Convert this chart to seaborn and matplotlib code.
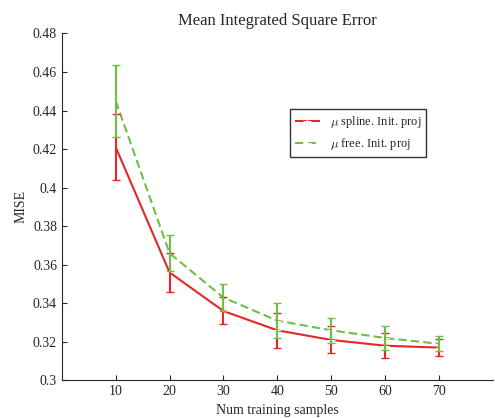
import numpy as np
import pandas as pd
import matplotlib
matplotlib.use('Agg')
import matplotlib.pyplot as plt
import seaborn as sns

sns.set_style('ticks')
plt.rcParams['font.family'] = ['Liberation Serif', 'DejaVu Serif']
plt.rcParams['mathtext.fontset'] = 'cm'
plt.rcParams['xtick.direction'] = 'in'
plt.rcParams['ytick.direction'] = 'in'

samples = [10, 20, 30, 40, 50, 60, 70]
spline_mean = [0.421, 0.356, 0.336, 0.326, 0.321, 0.318, 0.317]
spline_err = [0.017, 0.010, 0.007, 0.009, 0.007, 0.0065, 0.0045]
free_mean = [0.445, 0.366, 0.343, 0.331, 0.326, 0.322, 0.319]
free_err = [0.0185, 0.0095, 0.007, 0.009, 0.0065, 0.006, 0.004]

df = pd.DataFrame({'n': samples * 2,
                   'mise': spline_mean + free_mean,
                   'err': spline_err + free_err,
                   'series': [r'$\mu$ spline. Init. proj'] * 7 + [r'$\mu$ free. Init. proj'] * 7})
colors = {r'$\mu$ spline. Init. proj': '#e8262a', r'$\mu$ free. Init. proj': '#6dbf45'}

fig, ax = plt.subplots(figsize=(4.95, 4.18), dpi=100)
fig.subplots_adjust(left=0.125, right=0.995, top=0.92, bottom=0.09)
sns.lineplot(data=df, x='n', y='mise', hue='series', style='series',
             palette=colors, dashes=[(1, 0), (4, 2)], markers=['+', '+'],
             markersize=6, linewidth=1.5, ax=ax)
for name, g in df.groupby('series', sort=False):
    ax.errorbar(g['n'], g['mise'], yerr=g['err'], fmt='none',
                ecolor=colors[name], capsize=3, elinewidth=1.5)
ax.set_xlim(0, 80)
ax.set_ylim(0.3, 0.48)
ax.set_xticks(samples)
ax.set_yticks(np.arange(0.3, 0.481, 0.02))
ax.set_yticklabels(['0.3', '0.32', '0.34', '0.36', '0.38', '0.4', '0.42', '0.44', '0.46', '0.48'])
ax.set_xlabel('Num training samples')
ax.set_ylabel('MISE')
ax.set_title('Mean Integrated Square Error')
sns.despine(ax=ax)
ax.legend(loc='upper right', bbox_to_anchor=(0.86, 0.8), frameon=True,
          fancybox=False, edgecolor='black', fontsize=9)
fig.savefig('out.png', dpi=100)
